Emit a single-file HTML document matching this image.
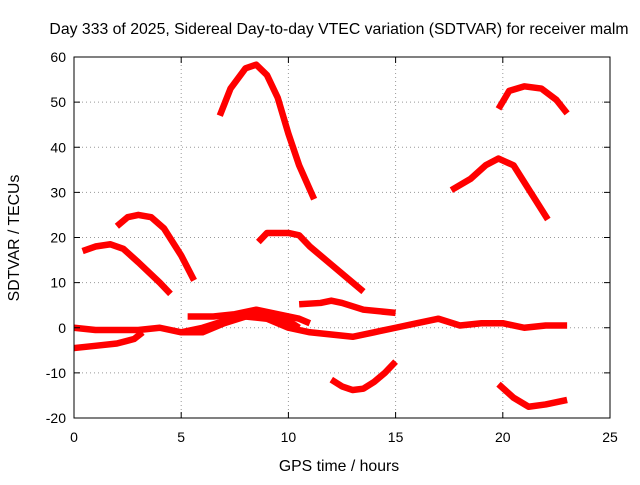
<!DOCTYPE html>
<html><head><meta charset="utf-8"><style>
body{margin:0;background:#fff;}
svg text{font-family:"Liberation Sans",sans-serif;font-size:14px;fill:#000;}
svg text.big{font-size:15.8px;}
</style></head><body>
<svg width="640" height="480" viewBox="0 0 640 480">
<rect x="0" y="0" width="640" height="480" fill="#fff"/>
<text class="big" x="339" y="34" text-anchor="middle">Day 333 of 2025, Sidereal Day-to-day VTEC variation (SDTVAR) for receiver malm</text>
<g id="grid"></g>
<g id="series"></g>
<rect x="74" y="57" width="536" height="361" fill="none" stroke="#000" stroke-width="1"/>
<g id="ticks"></g>
<text class="big" x="339" y="471" text-anchor="middle">GPS time / hours</text>
<text class="big" transform="translate(19,238) rotate(-90)" text-anchor="middle">SDTVAR / TECUs</text>
</svg>
<script>
const xTicks=[0,5,10,15,20,25];
const yTicks=[-20,-10,0,10,20,30,40,50,60];
const s1=[[0.4,17],[1,18],[1.7,18.5],[2.3,17.5],[3,14.5],[4,10],[4.5,7.5]];
const s2=[[2,22.5],[2.5,24.5],[3,25],[3.6,24.5],[4.2,22],[5,16],[5.6,10.5]];
const s3=[[6.8,47],[7.3,53],[8,57.5],[8.5,58.3],[9,56],[9.5,51],[10,43],[10.5,36],[11.2,28.5]];
const s4=[[8.6,19],[9,21],[10,21],[10.5,20.5],[11,18],[12,14],[13,10],[13.5,8]];
const s5=[[12,-11.5],[12.5,-13],[13,-13.8],[13.5,-13.5],[14,-12],[14.5,-10],[15,-7.5]];
const s6=[[10.5,5.2],[11.5,5.5],[12,6],[12.5,5.5],[13.5,4],[15,3.3]];
const s7=[[0,0],[1,-0.5],[2,-0.5],[3,-0.5],[4,0],[5,-1],[6,-1],[7,1],[8,2.5],[9,2],[10,0],[11,-1],[12,-1.5],[13,-2],[14,-1],[15,0],[16,1],[17,2],[18,0.5],[19,1],[20,1],[21,0],[22,0.5],[23,0.5]];
const s8=[[0,-4.5],[1,-4],[2,-3.5],[2.8,-2.5],[3.2,-1]];
const s9=[[5.3,2.5],[6.5,2.5],[7.5,3],[8.5,4],[9.5,3],[10.5,2],[11,1]];
const s10=[[5,-1],[6,0],[7,1.5],[8,2.5],[9,3],[10,1.5],[10.5,0]];
const s11=[[17.6,30.5],[18.5,33],[19.2,36],[19.8,37.5],[20.5,36],[21.3,30],[22.1,24]];
const s12=[[19.8,48.5],[20.3,52.5],[21,53.5],[21.8,53],[22.5,50.5],[23,47.5]];
const s13=[[19.8,-12.5],[20.5,-15.5],[21.2,-17.5],[22,-17],[23,-16]];
const allSeries=[s1,s2,s3,s4,s5,s6,s7,s8,s9,s10,s11,s12,s13];
const X0=74,X1=610,Y0=418,Y1=57;
function xs(v){return X0+(v-0)/25*(X1-X0);}
function ys(v){return Y0-(v+20)/80*(Y0-Y1);}
const NS="http://www.w3.org/2000/svg";
const grid=document.getElementById('grid'),ticks=document.getElementById('ticks'),ser=document.getElementById('series');
function mk(tag,attrs,parent){const e=document.createElementNS(NS,tag);for(const k in attrs)e.setAttribute(k,attrs[k]);parent.appendChild(e);return e;}
xTicks.forEach(t=>{const x=xs(t);
 if(t>0&&t<25){const g=mk('line',{x1:x,x2:x,y1:Y1,y2:Y0,stroke:'#999','stroke-dasharray':'1,3'},grid);
 
 }
 const l=mk('text',{x:x,y:Y0+24,'text-anchor':'middle'},ticks);l.textContent=t;
 
 
 mk('line',{x1:x,x2:x,y1:Y0,y2:Y0-6,stroke:'#000'},ticks);
 mk('line',{x1:x,x2:x,y1:Y1,y2:Y1+6,stroke:'#000'},ticks);});
yTicks.forEach(t=>{const y=ys(t);
 if(t>-20&&t<60){const g=mk('line',{x1:X0,x2:X1,y1:y,y2:y,stroke:'#999','stroke-dasharray':'1,3'},grid);
 
 }
 const l=mk('text',{x:X0-8,y:y+5,'text-anchor':'end'},ticks);l.textContent=t;
 
 
 mk('line',{x1:X0,x2:X0+6,y1:y,y2:y,stroke:'#000'},ticks);
 mk('line',{x1:X1,x2:X1-6,y1:y,y2:y,stroke:'#000'},ticks);});
allSeries.forEach((s,i)=>{
 const p=mk('polyline',{points:s.map(d=>xs(d[0])+','+ys(d[1])).join(' '),fill:'none',stroke:'#f00','stroke-width':6.5,'stroke-linejoin':'round','stroke-linecap':'butt'},ser);
 
 
});
</script>
</body></html>
